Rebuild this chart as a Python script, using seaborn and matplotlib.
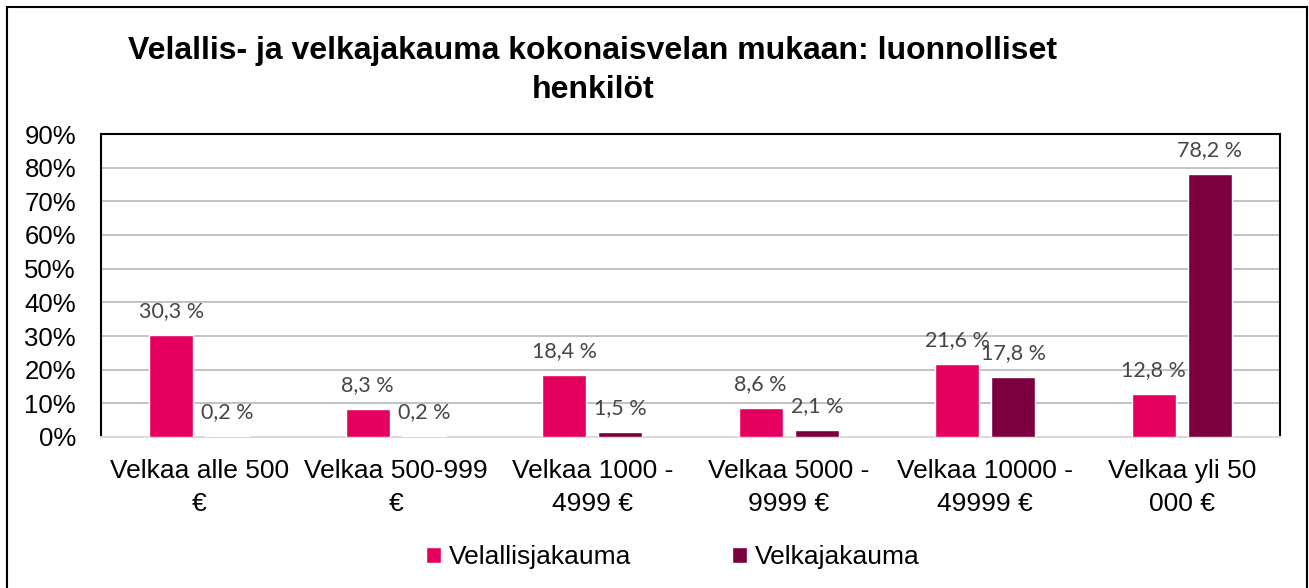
import pandas as pd
import seaborn as sns
import matplotlib.pyplot as plt
from matplotlib.patches import Rectangle

categories = ["Velkaa alle 500\n€", "Velkaa 500-999\n€", "Velkaa 1000 -\n4999 €",
              "Velkaa 5000 -\n9999 €", "Velkaa 10000 -\n49999 €", "Velkaa yli 50\n000 €"]
velallisjakauma = [30.3, 8.3, 18.4, 8.6, 21.6, 12.8]
velkajakauma = [0.2, 0.2, 1.5, 2.1, 17.8, 78.2]
series_names = ["Velallisjakauma", "Velkajakauma"]
y_ticks = [0, 10, 20, 30, 40, 50, 60, 70, 80, 90]

df = pd.DataFrame({
    "luokka": categories * 2,
    "osuus": velallisjakauma + velkajakauma,
    "sarja": [series_names[0]] * len(categories) + [series_names[1]] * len(categories),
})

sns.set_style("white")
plt.rcParams['font.family'] = ['Liberation Sans', 'DejaVu Sans']
plt.rcParams['text.color'] = 'black'
plt.rcParams['xtick.color'] = 'black'
plt.rcParams['ytick.color'] = 'black'

pink = "#E6005E"
maroon = "#7C003E"

W, H = 1309, 588
fig = plt.figure(figsize=(W / 100, H / 100), dpi=100)
ax = fig.add_axes([101 / W, 1 - 437 / H, (1280 - 101) / W, (437 - 134) / H])

sns.barplot(data=df, x="luokka", y="osuus", hue="sarja", palette=[pink, maroon],
            width=0.57, gap=0.214, saturation=1, ax=ax, zorder=3)

# data labels
for cont in ax.containers:
    for bar in cont:
        h = bar.get_height()
        ax.annotate(f"{h:.1f} %".replace(".", ","),
                    (bar.get_x() + bar.get_width() / 2, h),
                    xytext=(0, 13), textcoords="offset points",
                    ha="center", va="baseline", fontsize=15.5,
                    color="#454545", family=["Lato", "DejaVu Sans"], zorder=4)

ax.set_ylim(0, 90)
ax.set_yticks(y_ticks)
ax.set_yticklabels([f"{t}%" for t in y_ticks])
ax.set_xlabel("")
ax.set_ylabel("")
ax.yaxis.grid(True, color="#B8B8B8", linewidth=1.2, zorder=0)
ax.set_axisbelow(True)
ax.tick_params(axis="y", length=0, pad=18, labelsize=18.5, labelcolor="black")
ax.tick_params(axis="x", length=0, pad=16, labelsize=19, labelcolor="black")
for lab in ax.get_xticklabels():
    lab.set_linespacing(1.45)

for side in ["left", "top", "right"]:
    ax.spines[side].set_color("black")
    ax.spines[side].set_linewidth(1.5)
ax.spines["bottom"].set_color("#D9D9D9")
ax.spines["bottom"].set_linewidth(1.5)

sns.move_legend(ax, "center", bbox_to_anchor=(0.514, 1 - 557 / H),
                bbox_transform=fig.transFigure, ncol=2, frameon=False, title=None,
                fontsize=19, handlelength=0.55, handleheight=0.55,
                handletextpad=0.3, columnspacing=3.85)
for t in ax.get_legend().get_texts():
    t.set_color("black")

fig.text(593 / W, 1 - 36 / H,
         "Velallis- ja velkajakauma kokonaisvelan mukaan: luonnolliset\nhenkilöt",
         ha="center", va="top", fontsize=23, fontweight="bold", linespacing=1.4,
         color="black")

# outer chart border
fig.patches.append(Rectangle((7 / W, -0.05), (1307 - 7) / W, 1 - 7 / H + 0.05,
                             transform=fig.transFigure, fill=False,
                             edgecolor="black", linewidth=1.5))

fig.savefig("out.png", dpi=100)
